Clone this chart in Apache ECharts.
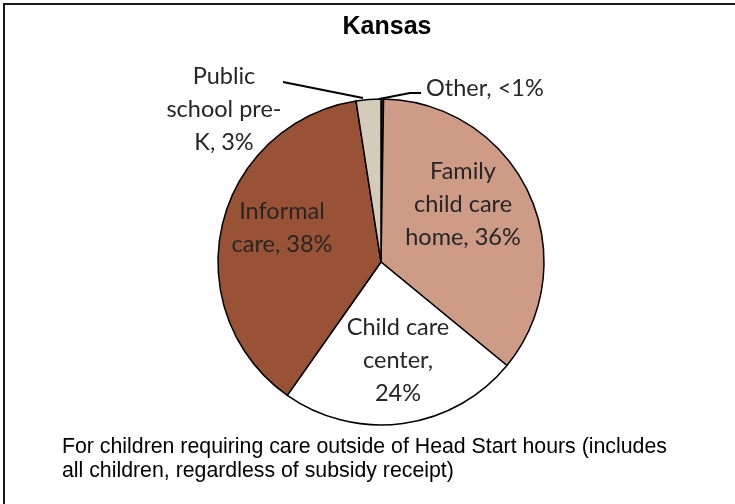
<!DOCTYPE html>
<html>
<head>
<meta charset="utf-8">
<script src="https://cdn.jsdelivr.net/npm/echarts@6/dist/echarts.min.js"></script>
<style>
  html, body { margin: 0; padding: 0; background: #fff; }
  #chart { width: 735px; height: 504px; }
</style>
</head>
<body>
<div id="chart"></div>
<script>
// slices clockwise from 12 o'clock
const names = ['Other', 'Family child care home', 'Child care center', 'Informal care', 'Public school pre-K']
const values = [0.25, 35.7, 23.8, 37.8, 2.45]
const labelTexts = ['Other, <1%', 'Family\nchild care\nhome, 36%', 'Child care\ncenter,\n24%', 'Informal\ncare, 38%', 'Public\nschool pre-\nK, 3%']
const colors = ['#3a3a3a', '#CD9B86', '#FFFFFF', '#995236', '#D4CBB8']

const PIE_X = 381
const PIE_Y = 262

// label anchors, relative to the pie centre
const labelSpots = [
  { dx: 45, dy: -174, align: 'left', line: [[-2, -163], [29, -169], [40, -169]] },
  { dx: 82, dy: -58 },
  { dx: 17, dy: 98 },
  { dx: -99, dy: -34 },
  { dx: -157, dy: -153, line: [[-18, -164], [-98, -180]] },
]

const chart = echarts.init(document.getElementById('chart'))

const option = {
  animation: false,
  title: {
    text: 'Kansas',
    left: PIE_X + 1,
    top: 10,
    textAlign: 'center',
    textStyle: { fontFamily: '"Liberation Sans", Arial, sans-serif', fontWeight: 'bold', fontSize: 25, color: '#000' },
  },
  graphic: [
    {
      type: 'rect',
      shape: { x: 4, y: 4, width: 900, height: 700 },
      style: { fill: 'none', stroke: '#1a1a1a', lineWidth: 2 },
      silent: true,
    },
    {
      type: 'text',
      left: 62,
      top: 435,
      style: {
        text: 'For children requiring care outside of Head Start hours (includes\nall children, regardless of subsidy receipt)',
        font: '21.3px "Liberation Sans", Arial, sans-serif',
        lineHeight: 24,
        fill: '#000',
      },
    },
  ],
  series: [
    {
      type: 'pie',
      center: [PIE_X, PIE_Y],
      radius: 163,
      startAngle: 90,
      clockwise: true,
      data: values.map((v, i) => ({
        name: names[i],
        value: v,
        itemStyle: { color: colors[i] },
        label: { position: labelSpots[i].line ? 'outside' : 'inside' },
        labelLine: { show: !!labelSpots[i].line },
      })),
      itemStyle: { borderColor: '#000', borderWidth: 1.5 },
      label: {
        formatter: (p) => labelTexts[p.dataIndex],
        fontFamily: 'Lato, "Open Sans", sans-serif',
        fontSize: 23.5,
        lineHeight: 33,
        color: '#262626',
        align: 'center',
      },
      labelLine: { lineStyle: { color: '#000', width: 2 }, length: 10, length2: 10 },
      labelLayout: (p) => {
        const s = labelSpots[p.dataIndex]
        const out = {
          x: PIE_X + s.dx,
          y: PIE_Y + s.dy,
          align: s.align || 'center',
          verticalAlign: 'middle',
        }
        if (s.line) out.labelLinePoints = s.line.map((pt) => [PIE_X + pt[0], PIE_Y + pt[1]])
        return out
      },
    },
  ],
}

chart.setOption(option)
</script>
</body>
</html>
